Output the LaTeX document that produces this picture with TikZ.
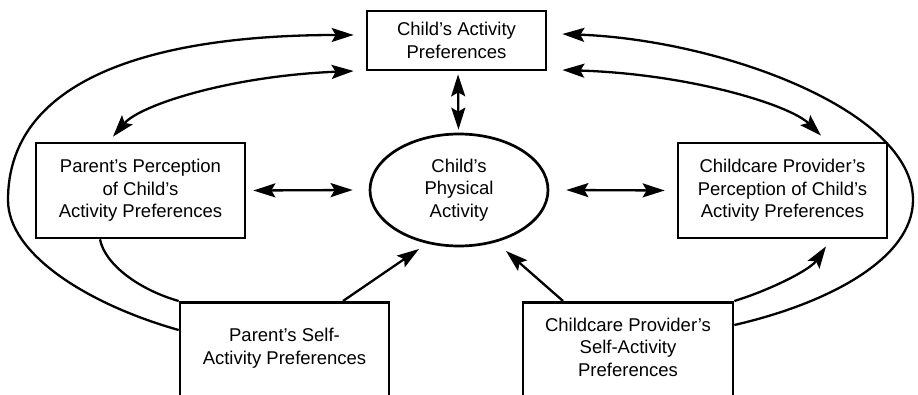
\documentclass[tikz,border=0pt]{standalone}
\usepackage{fontspec}
\setmainfont{Liberation Sans}
\usetikzlibrary{arrows.meta,shapes.geometric,calc}
\tikzset{
  box/.style={draw, line width=2.7pt, rectangle, inner sep=0pt},
  lbl/.style={align=center, font=\fontsize{18.5}{22.5}\selectfont, inner sep=0pt},
  conn/.style={line width=2.3pt},
  tip/.style={-{Stealth[length=22pt,width=14pt,inset=4pt]}},
  tips/.style={{Stealth[length=22pt,width=14pt,inset=4pt]}-{Stealth[length=22pt,width=14pt,inset=4pt]}},
}
\begin{document}
\begin{tikzpicture}[x=1pt,y=-1pt]
\useasboundingbox[fill=white] (0,0) rectangle (918,395);

% nodes
\node[box, lbl, minimum width=179pt, minimum height=59pt] (tp) at (456.5,40.5) {Child's Activity\\Preferences};
\node[box, lbl, minimum width=209pt, minimum height=95pt] (pp) at (140.5,190.5) {Parent's Perception\\of Child's\\Activity Preferences};
\node[box, lbl, minimum width=209pt, minimum height=95pt] (cp) at (782.5,190.5) {Childcare Provider's\\Perception of Child's\\Activity Preferences};
\node[draw, ellipse, line width=2.7pt, lbl, minimum width=178pt, minimum height=112pt] (pa) at (459,190) {Child's\\Physical\\Activity};

\begin{scope}
\clip (0,0) rectangle (918,395);
\node[box, minimum width=209pt, minimum height=130pt, anchor=north] (ps) at (284.5,301) {};
\node[box, minimum width=210pt, minimum height=130pt, anchor=north] (cs) at (628,301) {};
\end{scope}
\node[lbl] (pst) at (284.5,348) {Parent's Self-\\Activity Preferences};
\node[lbl] (cst) at (628,347) {Childcare Provider's\\Self-Activity\\Preferences};

% control points of the outer loops
\coordinate (lx) at (8,200);
\coordinate (rx) at (913,200);

% connectors
\draw[conn, tip] ($(ps.north west)+(0,29)$) .. controls (90,305) and (8,255) .. (lx)
  .. controls (8,80) and (150,35) .. ($(tp.west)+(-12,-5.5)$);
\draw[conn, tips] ($(tp.west)+(-12,30.5)$) .. controls (230,76) and (140,105) .. ($(pp.north)+(-27.5,-5)$);
\draw[conn] ($(pp.south)+(-40.5,0)$) .. controls (105,265) and (140,290) .. (ps.north west);
\draw[conn, tip] ($(ps.north)+(58.5,0)$) -- ($(pa.center)+(-40,59)$);
\draw[conn, tip] ($(cs.north)+(-65,0)$) -- ($(pa.center)+(47,61)$);
\draw[conn, tip] (cs.north east) .. controls (770,290) and (810,270) .. ($(cp.south)+(43.5,7)$);
\draw[conn, tip] ($(cs.north east)+(0,24)$) .. controls (830,303) and (913,258) .. (rx)
  .. controls (913,110) and (720,40) .. ($(tp.east)+(15,-6.5)$);
\draw[conn, tips] ($(tp.east)+(15,29.5)$) .. controls (690,74) and (790,105) .. ($(cp.north)+(38.5,-6)$);
\draw[conn, tips, shorten <=3pt, shorten >=3pt] ($(tp.south)+(1.5,0)$) -- ($(pa.north)+(-0.5,0)$);
\draw[conn, tips] ($(pp.east)+(7,0)$) -- ($(pa.west)+(-16,0)$);
\draw[conn, tips] ($(pa.east)+(17,0)$) -- ($(cp.west)+(-12,0)$);
\end{tikzpicture}
\end{document}
